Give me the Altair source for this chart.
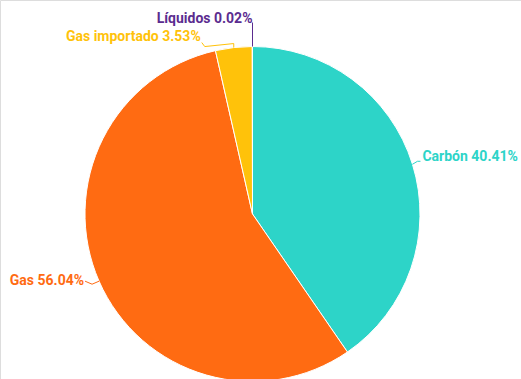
import math
import altair as alt
import pandas as pd

categories = ["Carbón", "Gas", "Gas importado", "Líquidos"]
values = [40.41, 56.04, 3.53, 0.02]
colors = ["#2dd4c8", "#ff6b12", "#ffc20a", "#5b2c8f"]

CX, CY, R = 252.5, 214.0, 167.5
total = sum(values)

pie_df = pd.DataFrame({"cat": categories, "value": values,
                       "idx": list(range(len(categories)))})
pie_df["label"] = [f"{c} {v:.2f}%" for c, v in zip(categories, values)]

# label geometry derived from slice angles
line_rows, text_rows = [], []
cum = 0.0
for i, (c, v) in enumerate(zip(categories, values)):
    mid = (cum + v / 2) / total * 2 * math.pi
    cum += v
    sx, cy_ = math.sin(mid), -math.cos(mid)
    p0 = (CX + R * sx, CY + R * cy_)
    side = "right" if sx > 0.02 else "left"
    if c == "Carbón":
        pts = [p0, (p0[0] + 5, p0[1] - 3), (p0[0] + 8, p0[1] - 3)]
        tx, ty = pts[-1][0] + 2, pts[-1][1] - 4
    elif c == "Gas":
        pts = [p0, (p0[0] - 7, p0[1] + 3), (p0[0] - 14, p0[1])]
        tx, ty = pts[-1][0] - 1, pts[-1][1]
    elif c == "Gas importado":
        pts = [p0, (p0[0], p0[1] - 4), (p0[0] - 29, p0[1] - 1), (p0[0] - 32, p0[1] - 5)]
        tx, ty = pts[-1][0] - 1, pts[-1][1] - 6
    else:
        pts = [(CX, CY - R), (CX, CY - R - 24)]
        tx, ty = CX, CY - R - 28
    for k, (x, y) in enumerate(pts):
        line_rows.append({"cat": c, "k": k, "x": x, "y": y})
    text_rows.append({"cat": c, "label": f"{c} {v:.2f}%", "x": tx, "y": ty, "side": side})

line_df = pd.DataFrame(line_rows)
text_df = pd.DataFrame(text_rows)

color_scale = alt.Scale(domain=categories, range=colors)

arcs = alt.Chart(pie_df).mark_arc(radius=R, stroke="white", strokeWidth=1).encode(
    theta=alt.Theta("value:Q", stack=True),
    order=alt.Order("idx:Q"),
    color=alt.Color("cat:N", scale=color_scale, legend=None),
    x=alt.value(CX),
    y=alt.value(CY),
)

lines = alt.Chart(line_df).mark_line(strokeWidth=1).encode(
    x=alt.X("x:Q", scale=None),
    y=alt.Y("y:Q", scale=None),
    detail="cat:N",
    order="k:Q",
    color=alt.Color("cat:N", scale=color_scale, legend=None),
)

def text_layer(side, align):
    return alt.Chart(text_df).transform_filter(
        alt.datum.side == side
    ).mark_text(align=align, baseline="middle", font="Roboto",
                fontSize=14, fontWeight="bold").encode(
        x=alt.X("x:Q", scale=None),
        y=alt.Y("y:Q", scale=None),
        text="label:N",
        color=alt.Color("cat:N", scale=color_scale, legend=None),
    )

chart = alt.layer(arcs, lines, text_layer("right", "left"), text_layer("left", "right")).properties(
    width=521, height=379,
    autosize=alt.AutoSizeParams(type="none"),
    padding=0,
).configure_view(stroke=None).configure(background="white")

chart.save("out.html", embed_options={"renderer": "svg", "actions": False})
